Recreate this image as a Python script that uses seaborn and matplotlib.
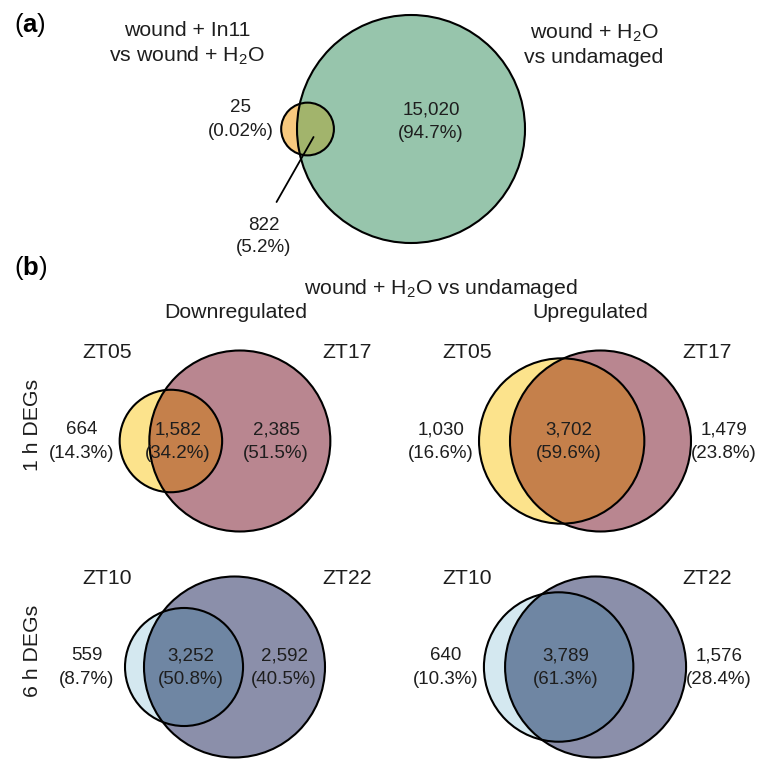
import numpy as np
import matplotlib
matplotlib.use("Agg")
import matplotlib.pyplot as plt
from matplotlib.patches import Circle
import seaborn as sns

# ---- (a) wound + In11 vs wound + H2O  against  wound + H2O vs undamaged ----
a_titles = ["wound + In11\nvs wound + H$_2$O", "wound + H$_2$O\nvs undamaged"]
a_counts = [25, 822, 15020]          # only left set, shared, only right set
a_pcts = [0.02, 5.2, 94.7]

# ---- (b) wound + H2O vs undamaged, split by direction and sampling time ----
b_title = "wound + H$_2$O vs undamaged"
b_cols = ["Downregulated", "Upregulated"]
b_rows = ["1 h DEGs", "6 h DEGs"]
b_names = [["ZT05", "ZT17"], ["ZT10", "ZT22"]]
b_counts = [
    [[664, 1582, 2385], [1030, 3702, 1479]],
    [[559, 3252, 2592], [640, 3789, 1576]],
]
b_pcts = [
    [[14.3, 34.2, 51.5], [16.6, 59.6, 23.8]],
    [[8.7, 50.8, 40.5], [10.3, 61.3, 28.4]],
]

# fill colours: (left only, right only, shared)
a_colors = ("#F7C97E", "#97C5AC", "#A2B46C")
b_colors = [("#FCE38C", "#B98690", "#C5804B"),
            ("#D4E8F0", "#8B8FAA", "#6F86A3")]

sns.set_theme(style="white")
plt.rcParams["font.family"] = ["Liberation Sans", "DejaVu Sans"]
plt.rcParams["mathtext.fontset"] = "custom"
plt.rcParams["mathtext.rm"] = "Liberation Sans"
plt.rcParams["mathtext.it"] = "Liberation Sans:italic"
plt.rcParams["mathtext.bf"] = "Liberation Sans:bold"

TXT = "#1e1e1e"
EDGE_LW = 1.5
NUM_FS = 13.5
HEAD_FS = 15.3


def lens_area(r1, r2, d):
    if d >= r1 + r2:
        return 0.0
    if d <= abs(r2 - r1):
        return np.pi * min(r1, r2) ** 2
    a1 = np.arccos((d * d + r1 * r1 - r2 * r2) / (2 * d * r1))
    a2 = np.arccos((d * d + r2 * r2 - r1 * r1) / (2 * d * r2))
    k = np.sqrt((-d + r1 + r2) * (d + r1 - r2) * (d - r1 + r2) * (d + r1 + r2))
    return r1 * r1 * a1 + r2 * r2 * a2 - 0.5 * k


def centre_gap(r1, r2, share):
    """Distance between centres so the lens holds `share` of the smaller disc."""
    target = share * np.pi * min(r1, r2) ** 2
    lo, hi = abs(r2 - r1), r1 + r2
    for _ in range(80):
        mid = 0.5 * (lo + hi)
        if lens_area(r1, r2, mid) > target:
            lo = mid
        else:
            hi = mid
    return 0.5 * (lo + hi)


def draw_pair(ax, c1, c2, cy, r1, r2, colors):
    left = Circle((c1, cy), r1, facecolor=colors[0], edgecolor="none", zorder=1)
    right = Circle((c2, cy), r2, facecolor=colors[1], edgecolor="none", zorder=2)
    ax.add_patch(left)
    ax.add_patch(right)
    shared = Circle((c1, cy), r1, facecolor=colors[2], edgecolor="none", zorder=3)
    ax.add_patch(shared)
    shared.set_clip_path(right)
    for cx, r in ((c1, r1), (c2, r2)):
        ax.add_patch(Circle((cx, cy), r, facecolor="none", edgecolor="black",
                            lw=EDGE_LW, zorder=4))


def count_label(ax, x, y, n, p):
    pct = f"{p:.2f}" if p < 0.1 else f"{p:.1f}"
    ax.text(x, y - 11, f"{n:,}", ha="center", va="center", fontsize=NUM_FS,
            color=TXT, zorder=5)
    ax.text(x, y + 12, f"({pct}%)", ha="center", va="center", fontsize=NUM_FS,
            color=TXT, zorder=5)


fig = plt.figure(figsize=(7.59, 7.61), dpi=100)
ax = fig.add_axes([0, 0, 1, 1])
ax.set_xlim(0, 759)
ax.set_ylim(761, 0)
ax.set_aspect("equal")
ax.axis("off")

# ---------------- panel (a): area-proportional discs ----------------
ax.text(14, 25, r"($\mathbf{a}$)", ha="left", va="center", fontsize=18.5, color="black")
a_left = a_counts[0] + a_counts[1]
a_right = a_counts[1] + a_counts[2]
R_A = 114
ra2 = R_A
ra1 = R_A * np.sqrt(a_left / a_right)
a_cy = 129
a_c2 = 411
a_c1 = a_c2 - (ra2 - 0.4 * ra1)
draw_pair(ax, a_c1, a_c2, a_cy, ra1, ra2, a_colors)

ax.text(187, 44, a_titles[0], ha="center", va="center", fontsize=HEAD_FS,
        color=TXT, linespacing=1.25)
ax.text(594, 44, a_titles[1], ha="center", va="center", fontsize=HEAD_FS,
        color=TXT, linespacing=1.25)
count_label(ax, a_c1 - 67, a_cy - 10, a_counts[0], a_pcts[0])
count_label(ax, a_c2 + 20, a_cy - 8, a_counts[2], a_pcts[2])
# leader from the shared lens to its label
ax.plot([a_c1 + 6, a_c1 - 31], [a_cy + 8, a_cy + 73], color="black", lw=1.3, zorder=6)
count_label(ax, a_c1 - 44, a_cy + 107, a_counts[1], a_pcts[1])

# ---------------- panel (b): radius scaled to set size ----------------
ax.text(14, 268, r"($\mathbf{b}$)", ha="left", va="center", fontsize=18.5, color="black")
ax.text(441, 289, b_title, ha="center", va="center", fontsize=HEAD_FS, color=TXT)

col_x = [225, 585]
row_y = [441, 667]
R_B = 90.5
for j, name in enumerate(b_cols):
    ax.text(col_x[j] + (11 if j == 0 else 5), 312, name, ha="center", va="center",
            fontsize=HEAD_FS, color=TXT)
for i, row in enumerate(b_rows):
    ax.text(33, row_y[i] - 16, row, ha="center", va="center", rotation=90,
            fontsize=HEAD_FS, color=TXT)

for i in range(2):
    for j in range(2):
        only1, both, only2 = b_counts[i][j]
        n1, n2 = only1 + both, both + only2
        big = max(n1, n2)
        r1, r2 = R_B * n1 / big, R_B * n2 / big
        d = centre_gap(r1, r2, both / min(n1, n2))
        cy = row_y[i]
        c1 = col_x[j] - (d + r2 - r1) / 2
        c2 = c1 + d
        draw_pair(ax, c1, c2, cy, r1, r2, b_colors[i])

        # set names above the discs
        ax.text(col_x[j] - 118, cy - 89, b_names[i][0], ha="center", va="center",
                fontsize=HEAD_FS, color=TXT)
        ax.text(col_x[j] + 122, cy - 89, b_names[i][1], ha="center", va="center",
                fontsize=HEAD_FS, color=TXT)

        p1, pb, p2 = b_pcts[i][j]
        count_label(ax, c1 - r1 - 38, cy, only1, p1)
        count_label(ax, c1 + 7, cy, both, pb)
        crescent = (c2 + r2) - (c1 + r1)
        if crescent > 60:
            x2 = 0.5 * ((c2 + r2) + (c1 + r1))
        else:
            x2 = c2 + r2 + 33
        count_label(ax, x2, cy, only2, p2)

fig.savefig("out.png", dpi=100, facecolor="white")
